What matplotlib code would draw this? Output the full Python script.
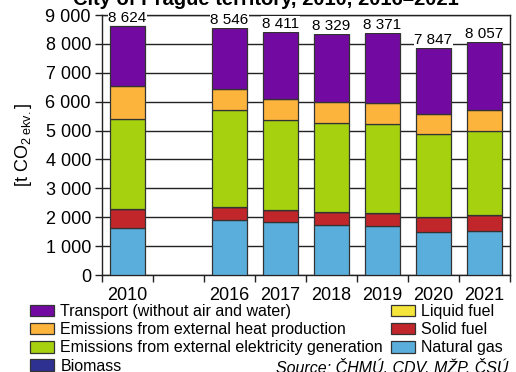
import matplotlib
matplotlib.use("Agg")
import matplotlib.pyplot as plt
import numpy as np

plt.rcParams['font.family'] = ['Liberation Sans', 'DejaVu Sans']
plt.rcParams['mathtext.fontset'] = 'custom'
plt.rcParams['mathtext.rm'] = 'Liberation Sans'
plt.rcParams['mathtext.it'] = 'Liberation Sans:italic'

years = ['2010', '2016', '2017', '2018', '2019', '2020', '2021']
slots = [0, 2, 3, 4, 5, 6, 7]
natural_gas = [1620, 1890, 1820, 1730, 1690, 1485, 1520]
solid_fuel = [680, 460, 430, 435, 460, 530, 540]
liquid_fuel = [0, 0, 0, 0, 0, 0, 0]
biomass = [0, 0, 0, 0, 0, 0, 0]
electricity = [3090, 3370, 3125, 3095, 3080, 2850, 2920]
heat = [1140, 720, 715, 725, 715, 715, 735]
transport = [2094, 2106, 2326, 2344, 2426, 2277, 2347]
totals = [8624, 8546, 8411, 8329, 8371, 7847, 8057]

series = [
    ('Natural gas', natural_gas, '#5AAEDB'),
    ('Solid fuel', solid_fuel, '#C0262A'),
    ('Liquid fuel', liquid_fuel, '#F5E53A'),
    ('Biomass', biomass, '#2E3192'),
    ('Emissions from external elektricity generation', electricity, '#A5D10F'),
    ('Emissions from external heat production', heat, '#FDB43C'),
    ('Transport (without air and water)', transport, '#7209A0'),
]

fig = plt.figure(figsize=(5.16, 3.72), dpi=100)
ax = fig.add_axes([102/516, 1-275/372, 408/516, 260/372])

bottom = np.zeros(len(years))
handles = {}
for name, vals, col in series:
    v = np.array(vals, dtype=float)
    b = ax.bar(slots, v, bottom=bottom, width=0.67, color=col,
               edgecolor='#333333', linewidth=0.9, zorder=3, label=name)
    handles[name] = b
    bottom += v

def fmt(n):
    return f"{n:,}".replace(',', ' ')

for x, t in zip(slots, totals):
    ax.text(x, t + 40, fmt(t), ha='center', va='bottom', fontsize=11, zorder=4,
            bbox=dict(facecolor='white', edgecolor='none', pad=0.5))

ax.set_xlim(-0.5, 7.5)
ax.set_ylim(0, 9000)
ax.set_yticks(np.arange(0, 9001, 1000))
ax.set_yticklabels([fmt(v) for v in range(0, 9001, 1000)], fontsize=13)
ax.set_xticks(slots)
ax.set_xticklabels(years, fontsize=13)
ax.set_xticks(np.arange(-0.5, 8, 1), minor=True)
ax.tick_params(axis='x', which='major', length=0, pad=9)
ax.tick_params(axis='x', which='minor', length=5, width=1, color='#222222')
ax.tick_params(axis='y', length=5, width=1, color='#222222', pad=3)
ax.yaxis.grid(True, color='#222222', linewidth=1.0, zorder=0)
ax.set_axisbelow(True)
for s in ax.spines.values():
    s.set_color('#222222')
    s.set_linewidth(1.0)

ax.set_ylabel(r'[t CO$_{2\ \mathrm{ekv.}}$]', fontsize=13, labelpad=8)

order = ['Transport (without air and water)', 'Emissions from external heat production',
         'Emissions from external elektricity generation', 'Biomass',
         'Liquid fuel', 'Solid fuel', 'Natural gas']
leg = fig.legend([handles[n] for n in order], order, ncol=2, loc='upper left',
                 bbox_to_anchor=(30/516, 1-304/372), frameon=False, fontsize=11.5,
                 handlelength=1.5, handleheight=0.73, handletextpad=0.4,
                 labelspacing=0.2, columnspacing=0.5, borderaxespad=0, borderpad=0)

fig.text(266/516, 1-5/372, 'City of Prague territory, 2010, 2016–2021',
         ha='center', va='baseline', fontsize=14.5, fontweight='bold')
fig.text(508/516, 1-373/372, 'Source: ČHMÚ, CDV, MŽP, ČSÚ', ha='right', va='baseline',
         fontsize=11.5, style='italic')

fig.savefig('out.png', dpi=100)
